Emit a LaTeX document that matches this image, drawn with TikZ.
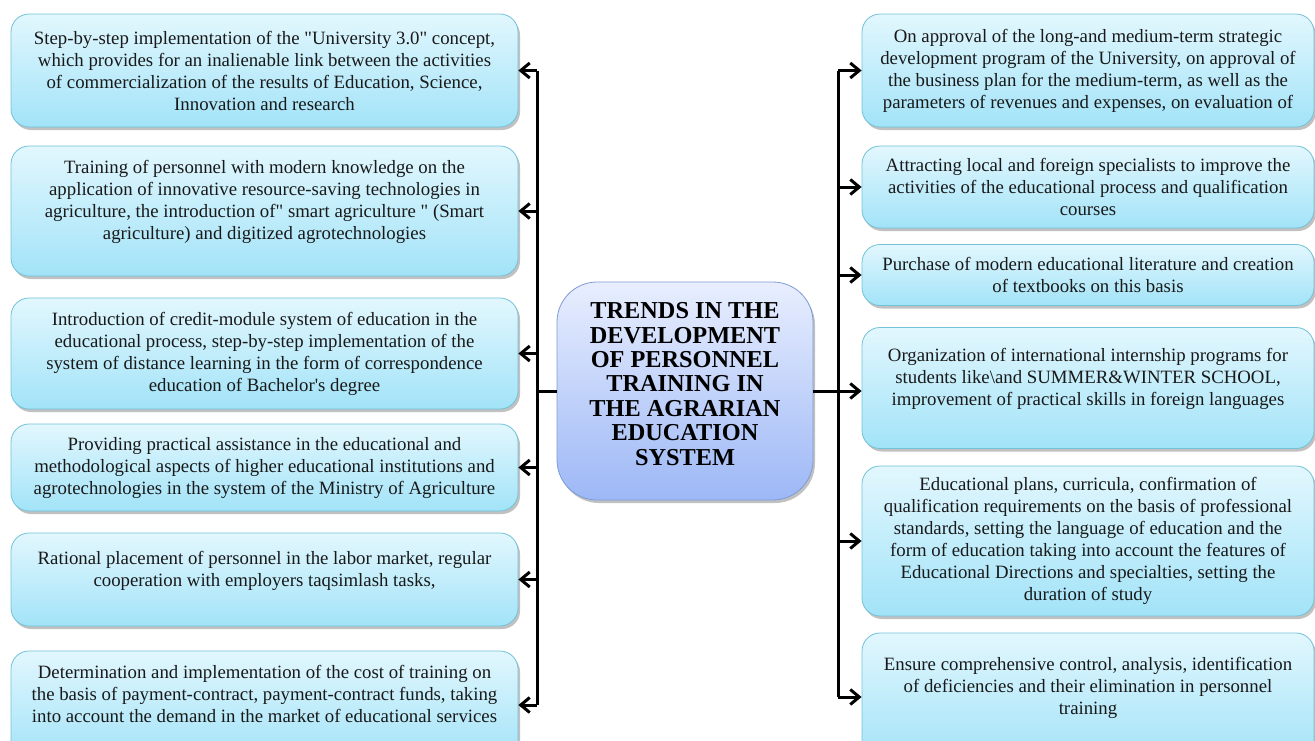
\documentclass[tikz,border=0pt]{standalone}
\usepackage{fontspec}
\setmainfont{Liberation Serif}
\usetikzlibrary{arrows.meta,shadows}

\definecolor{itemtop}{HTML}{E2F7FE}
\definecolor{itembot}{HTML}{A2E3F8}
\definecolor{itemline}{HTML}{72C2D8}
\definecolor{coretop}{HTML}{E8EEFE}
\definecolor{corebot}{HTML}{9DB8F6}
\definecolor{coreline}{HTML}{7D9BD5}

\tikzset{
    item/.style={draw=itemline, line width=0.8pt, rounded corners=18pt,
        top color=itemtop, bottom color=itembot, align=center,
        text=black!90, font=\fontsize{18.8}{22}\selectfont,
        drop shadow={shadow xshift=2pt, shadow yshift=-3pt, opacity=0.35, fill=black!70}},
    leftitem/.style={item, minimum width=507pt},
    rightitem/.style={item, minimum width=452pt},
    core/.style={draw=coreline, line width=0.8pt, rounded corners=40pt,
        top color=coretop, bottom color=corebot, align=center,
        minimum width=256pt, minimum height=218pt,
        font=\bfseries\fontsize{24.3}{24.4}\selectfont,
        drop shadow={shadow xshift=2pt, shadow yshift=-3pt, opacity=0.35, fill=black!70}},
    bus/.style={line width=3pt},
    link/.style={line width=3pt, -{Straight Barb[length=9pt,width=15pt,line width=3pt]}}
}

\begin{document}
\begin{tikzpicture}[x=1pt,y=-1pt]
    \useasboundingbox (0,0) rectangle (1315,740);

    \node[core] (trend) at (685,391) {TRENDS IN THE\\ DEVELOPMENT\\ OF PERSONNEL\\ TRAINING IN\\ THE AGRARIAN\\ EDUCATION\\ SYSTEM\\[-10pt] \mbox{}};

    % left column
    \node[leftitem, minimum height=113pt] (L1) at (264.5,70.5) {Step-by-step implementation of the \textquotedbl University 3.0\textquotedbl{} concept,\\ which provides for an inalienable link between the activities\\ of commercialization of the results of Education, Science,\\ Innovation and research};
    \node[leftitem, minimum height=130pt] (L2) at (264.5,211) {Training of personnel with modern knowledge on the\\ application of innovative resource-saving technologies in\\ agriculture, the introduction of\textquotedbl{} smart agriculture \textquotedbl{} (Smart\\ agriculture) and digitized agrotechnologies\\ \mbox{}};
    \node[leftitem, minimum height=111pt] (L3) at (264.5,353.5) {Introduction of credit-module system of education in the\\ educational process, step-by-step implementation of the\\ system of distance learning in the form of correspondence\\ education of Bachelor\textquotesingle s degree};
    \node[leftitem, minimum height=87pt] (L4) at (264.5,467.5) {Providing practical assistance in the educational and\\ methodological aspects of higher educational institutions and\\ agrotechnologies in the system of the Ministry of Agriculture};
    \node[leftitem, minimum height=93pt] (L5) at (264.5,579.5) {Rational placement of personnel in the labor market, regular\\ cooperation with employers taqsimlash tasks,\\ \mbox{}};
    \node[leftitem, minimum height=108pt] (L6) at (264.5,705) {Determination and implementation of the cost of training on\\ the basis of payment-contract, payment-contract funds, taking\\ into account the demand in the market of educational services\\ \mbox{}};

    % right column
    \node[rightitem, minimum height=113pt] (R1) at (1088,70.5) {On approval of the long-and medium-term strategic\\ development program of the University, on approval of\\ the business plan for the medium-term, as well as the\\ parameters of revenues and expenses, on evaluation of};
    \node[rightitem, minimum height=82pt] (R2) at (1088,187) {Attracting local and foreign specialists to improve the\\ activities of the educational process and qualification\\ courses};
    \node[rightitem, minimum height=61pt] (R3) at (1088,275) {Purchase of modern educational literature and creation\\ of textbooks on this basis};
    \node[rightitem, minimum height=121pt] (R4) at (1088,388) {Organization of international internship programs for\\ students like\textbackslash and SUMMER\&WINTER SCHOOL,\\ improvement of practical skills in foreign languages\\ \mbox{}};
    \node[rightitem, minimum height=150pt] (R5) at (1088,541) {Educational plans, curricula, confirmation of\\ qualification requirements on the basis of professional\\ standards, setting the language of education and the\\ form of education taking into account the features of\\ Educational Directions and specialties, setting the\\ duration of study};
    \node[rightitem, minimum height=128pt] (R6) at (1088,697) {Ensure comprehensive control, analysis, identification\\ of deficiencies and their elimination in personnel\\ training\\ \mbox{}};

    \coordinate (lx) at (537,0);
    \coordinate (rx) at (838,0);

    \draw[bus] (lx |- L1.east) -- (lx |- L6.east);
    \draw[bus] (rx |- R1.west) -- (rx |- R6.west);
    \draw[bus] (trend.west) -- (trend.west -| lx);
    \draw[link] (trend.east) -- (trend.east -| R4.west);

    \foreach \i in {1,...,6} {
        \draw[link] (lx |- L\i.east) -- (L\i.east);
    }
    \foreach \i in {1,2,3,5,6} {
        \draw[link] (rx |- R\i.west) -- (R\i.west);
    }
\end{tikzpicture}
\end{document}
